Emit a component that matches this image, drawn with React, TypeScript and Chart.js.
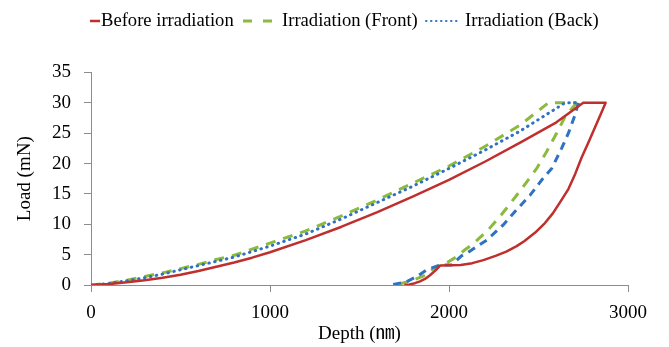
import React, { useEffect, useRef } from "react";
import { Chart, registerables } from "chart.js";

Chart.register(...registerables);

// Before irradiation
const beforeDepth = [0, 100, 200, 300, 400, 500, 600, 700, 800, 900, 1000, 1200, 1400, 1600, 1800, 2000, 2200, 2400, 2600, 2750, 2875, 2850, 2825, 2785, 2741, 2705, 2667, 2620, 2580, 2536, 2480, 2420, 2378, 2320, 2260, 2192, 2130, 2065, 1950, 1925, 1894, 1866, 1838, 1810, 1780, 1750];
const beforeLoad = [0, 0.15, 0.45, 0.8, 1.2, 1.7, 2.3, 3.0, 3.7, 4.5, 5.4, 7.4, 9.6, 12.0, 14.6, 17.3, 20.3, 23.5, 26.8, 30, 30, 28.3, 26.6, 23.9, 21.0, 18.3, 15.8, 13.6, 11.8, 10.2, 8.6, 7.2, 6.4, 5.5, 4.8, 4.1, 3.6, 3.3, 3.2, 2.4, 1.6, 1.0, 0.6, 0.3, 0.1, 0];

// Irradiation (Front) - loading and unloading
const frontLoadDepth = [0, 100, 200, 300, 400, 500, 600, 700, 800, 900, 1000, 1200, 1400, 1600, 1800, 2000, 2200, 2400, 2555, 2713];
const frontLoadLoad = [0, 0.3, 0.8, 1.4, 2.0, 2.7, 3.4, 4.2, 4.9, 5.9, 6.9, 8.9, 11.4, 14.0, 16.8, 19.6, 22.8, 26.4, 30, 30];
const frontUnloadDepth = [2713, 2648, 2601, 2546, 2490, 2415, 2350, 2285, 2220, 2136, 2089, 2040, 1978, 1950, 1900, 1866, 1800, 1715];
const frontUnloadLoad = [30, 27.7, 25, 22, 19.2, 16.2, 13.7, 11.3, 9.1, 6.8, 5.8, 4.6, 3.5, 3.3, 2.4, 1.6, 0.8, 0.1];

// Irradiation (Back) - loading and unloading
const backLoadDepth = [0, 100, 200, 300, 400, 500, 600, 700, 800, 900, 1000, 1200, 1400, 1600, 1800, 2000, 2200, 2400, 2648, 2723];
const backLoadLoad = [0, 0.25, 0.7, 1.2, 1.8, 2.5, 3.2, 3.9, 4.6, 5.5, 6.4, 8.4, 10.9, 13.6, 16.3, 19.2, 22.2, 25.4, 30, 30];
const backUnloadDepth = [2723, 2704, 2667, 2629, 2574, 2518, 2453, 2378, 2303, 2211, 2154, 2099, 2070, 2015, 1950, 1875, 1820, 1760, 1687];
const backUnloadLoad = [30, 28, 25, 22.5, 19.2, 17.3, 14.8, 12.4, 9.9, 7.4, 6.3, 5.2, 4.8, 3.3, 3.3, 2.5, 1.4, 0.5, 0.1];

const legendLabels = ["Before irradiation", "Irradiation (Front)", "Irradiation (Back)"];
const xTitle = "Depth (\u339A)";
const yTitle = "Load (mN)";

const RED = "#BF2F2D";
const GREEN = "#8CBA3E";
const BLUE = "#2F72C2";
const AXIS = "#8C8C8C";
const FONT = "'Liberation Serif', 'Times New Roman', 'Noto Sans CJK JP', serif";

const pts = (xs: number[], ys: number[]) => xs.map((x, i) => ({ x, y: ys[i] }));

const legendPlugin = {
  id: "customLegend",
  afterDraw(chart: any) {
    const ctx = chart.ctx as CanvasRenderingContext2D;
    const y = 21;
    ctx.save();
    ctx.font = `18.6px ${FONT}`;
    ctx.fillStyle = "#000";
    ctx.textBaseline = "middle";
    ctx.textAlign = "left";
    // red
    ctx.strokeStyle = RED;
    ctx.lineWidth = 2.5;
    ctx.setLineDash([]);
    ctx.beginPath();
    ctx.moveTo(90, y);
    ctx.lineTo(100, y);
    ctx.stroke();
    ctx.fillText(legendLabels[0], 101, y);
    // green
    ctx.strokeStyle = GREEN;
    ctx.lineWidth = 3;
    ctx.setLineDash([9, 11]);
    ctx.beginPath();
    ctx.moveTo(243, y);
    ctx.lineTo(273, y);
    ctx.stroke();
    ctx.fillText(legendLabels[1], 282, y);
    // blue
    ctx.strokeStyle = BLUE;
    ctx.lineWidth = 2;
    ctx.lineCap = "round";
    ctx.setLineDash([0.5, 4.5]);
    ctx.beginPath();
    ctx.moveTo(426, y);
    ctx.lineTo(458, y);
    ctx.stroke();
    ctx.fillText(legendLabels[2], 465, y);
    ctx.restore();
  },
};

export default function App() {
  const ref = useRef<HTMLCanvasElement | null>(null);
  useEffect(() => {
    if (!ref.current) return;
    const common = { showLine: true, pointRadius: 0, fill: false, tension: 0 };
    const chart = new Chart(ref.current, {
      type: "scatter",
      data: {
        datasets: [
          { ...common, label: legendLabels[0], data: pts(beforeDepth, beforeLoad), borderColor: RED, borderWidth: 2.5, borderJoinStyle: "round" },
          { ...common, label: legendLabels[2], data: pts(backLoadDepth, backLoadLoad), borderColor: BLUE, borderWidth: 3, borderDash: [0.5, 5.5], borderCapStyle: "round" },
          { ...common, label: legendLabels[2] + " u", data: pts(backUnloadDepth, backUnloadLoad), borderColor: BLUE, borderWidth: 3, borderDash: [8, 6] },
          { ...common, label: legendLabels[1], data: pts(frontLoadDepth, frontLoadLoad), borderColor: GREEN, borderWidth: 3, borderDash: [10, 8] },
          { ...common, label: legendLabels[1] + " u", data: pts(frontUnloadDepth, frontUnloadLoad), borderColor: GREEN, borderWidth: 3, borderDash: [10, 8] },
        ] as any,
      },
      options: {
        animation: false,
        responsive: false,
        maintainAspectRatio: false,
        layout: { padding: { top: 72.5, right: 41, left: 0, bottom: 0 } },
        plugins: { legend: { display: false }, tooltip: { enabled: false } },
        scales: {
          x: {
            type: "linear",
            min: 0,
            max: 3000,
            ticks: { stepSize: 1000, padding: 10, color: "#000", font: { family: FONT, size: 19 }, callback: (v: any) => String(v) },
            grid: { drawOnChartArea: false, drawTicks: true, tickLength: 7, color: AXIS },
            border: { color: AXIS, width: 1 },
            title: { display: true, text: xTitle, color: "#000", font: { family: FONT, size: 19 }, padding: { top: 0, bottom: 2 } },
            afterFit: (s: any) => { s.height = 62; },
          },
          y: {
            type: "linear",
            min: 0,
            max: 35,
            ticks: { stepSize: 5, padding: 13, color: "#000", font: { family: FONT, size: 19 }, callback: (v: any) => String(v) },
            grid: { drawOnChartArea: false, drawTicks: true, tickLength: 7, color: AXIS },
            border: { color: AXIS, width: 1 },
            title: { display: true, text: yTitle, color: "#000", font: { family: FONT, size: 19 }, padding: { top: 14, bottom: 0 } },
            afterFit: (s: any) => { s.width = 91; },
          },
        },
      } as any,
      plugins: [legendPlugin],
    });
    return () => chart.destroy();
  }, []);
  return (
    <div style={{ position: "absolute", left: 0, top: 0, width: 669, height: 347, background: "#fff" }}>
      <canvas ref={ref} width={669} height={347} style={{ width: 669, height: 347, display: "block" }} />
    </div>
  );
}
